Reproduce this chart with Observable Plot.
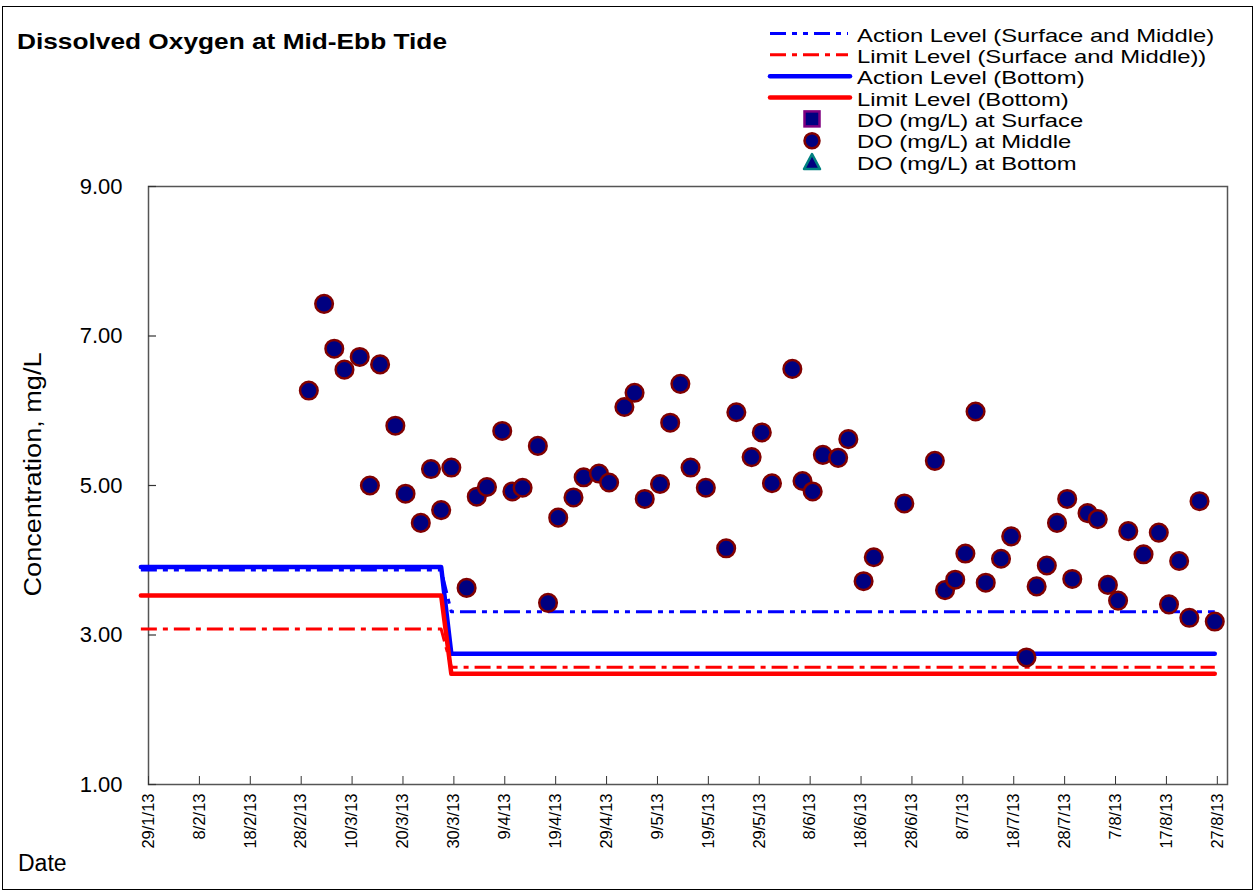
<!DOCTYPE html>
<html><head><meta charset="utf-8">
<script src="https://cdn.jsdelivr.net/npm/d3@7"></script>
<script src="https://cdn.jsdelivr.net/npm/@observablehq/plot@0.6"></script>
<style>
body{margin:0;background:#fff;font-family:"Liberation Sans",Arial,sans-serif;}
#wrap{position:relative;width:1255px;height:892px;overflow:hidden;background:#fff;}
#border{position:absolute;left:2px;top:6px;width:1251px;height:884px;border:1px solid #000;box-sizing:border-box;}
#plot, #overlay{position:absolute;left:0;top:0;}
#overlay{pointer-events:none;}
</style>
</head><body>
<div id="wrap"><div id="border"></div><div id="plot"></div><svg id="overlay" width="1255" height="892"></svg></div>
<script>
// ---- data ----
const sampleDates = ["2013-03-01","2013-03-04","2013-03-06","2013-03-08","2013-03-11","2013-03-13","2013-03-15","2013-03-18","2013-03-20","2013-03-23",
"2013-03-25","2013-03-27","2013-03-29","2013-04-01","2013-04-03","2013-04-05","2013-04-08","2013-04-10","2013-04-12","2013-04-15",
"2013-04-17","2013-04-19","2013-04-22","2013-04-24","2013-04-27","2013-04-29","2013-05-02","2013-05-04","2013-05-06","2013-05-09",
"2013-05-11","2013-05-13","2013-05-15","2013-05-18","2013-05-22","2013-05-24","2013-05-27","2013-05-29","2013-05-31","2013-06-04",
"2013-06-06","2013-06-08","2013-06-10","2013-06-13","2013-06-15","2013-06-18","2013-06-20","2013-06-26","2013-07-02","2013-07-04",
"2013-07-06","2013-07-08","2013-07-10","2013-07-12","2013-07-15","2013-07-17","2013-07-20","2013-07-22","2013-07-24","2013-07-26",
"2013-07-28","2013-07-29","2013-08-01","2013-08-03","2013-08-05","2013-08-07","2013-08-09","2013-08-12","2013-08-15","2013-08-17",
"2013-08-19","2013-08-21","2013-08-23","2013-08-26"];
const doMiddle = [6.27,7.43,6.83,6.55,6.72,5.00,6.62,5.80,4.89,4.50,
5.22,4.67,5.24,3.63,4.85,4.98,5.73,4.92,4.97,5.53,
3.43,4.57,4.84,5.11,5.16,5.04,6.05,6.24,4.82,5.02,
5.84,6.36,5.24,4.97,4.16,5.98,5.38,5.71,5.03,6.56,
5.06,4.92,5.41,5.37,5.62,3.72,4.04,4.76,5.33,3.60,
3.74,4.09,5.99,3.70,4.02,4.32,2.70,3.65,3.93,4.50,
4.82,3.75,4.63,4.55,3.67,3.46,4.39,4.08,4.37,3.41,
3.99,3.23,4.79,3.18];

const levelDates = ["2013-01-27","2013-03-27","2013-03-29","2013-08-26"];
const actionSM = [3.87,3.87,3.31,3.31];
const limitSM  = [3.08,3.08,2.57,2.57];
const actionB  = [3.91,3.91,2.75,2.75];
const limitB   = [3.53,3.53,2.48,2.48];

const tickDates = ["2013-01-29","2013-02-08","2013-02-18","2013-02-28","2013-03-10","2013-03-20","2013-03-30","2013-04-09","2013-04-19","2013-04-29",
"2013-05-09","2013-05-19","2013-05-29","2013-06-08","2013-06-18","2013-06-28","2013-07-08","2013-07-18","2013-07-28","2013-08-07","2013-08-17","2013-08-27"];
const tickLabels = ["29/1/13","8/2/13","18/2/13","28/2/13","10/3/13","20/3/13","30/3/13","9/4/13","19/4/13","29/4/13",
"9/5/13","19/5/13","29/5/13","8/6/13","18/6/13","28/6/13","8/7/13","18/7/13","28/7/13","7/8/13","17/8/13","27/8/13"];
const yTicks = [1,3,5,7,9];
const xDomain = ["2013-01-29","2013-08-29"];

const title = "Dissolved Oxygen at Mid-Ebb Tide";
const yLabel = "Concentration, mg/L";
const xLabel = "Date";
const legendLabels = ["Action Level (Surface and Middle)","Limit Level (Surface and Middle))","Action Level (Bottom)","Limit Level (Bottom)",
"DO (mg/L) at Surface","DO (mg/L) at Middle","DO (mg/L) at Bottom"];

// ---- build ----
const utc = (s, t="T12:00Z") => new Date(s + t);
const pts = sampleDates.map((d,i)=>({date: utc(d), value: doMiddle[i]}));
const levels = levelDates.map((d,i)=>({date: utc(d), aSM: actionSM[i], lSM: limitSM[i], aB: actionB[i], lB: limitB[i]}));
const ticks = tickDates.map(s=>utc(s,"T00:00Z"));
const W=1255, H=892, mL=148, mR=28, mT=186, mB=108;
const FONT = '"Liberation Sans", Arial, sans-serif';
const BLUE="#0000FF", RED="#FF0000";
const dashAction = "16,6,5,6,5,6", dashLimit = "16,6,5,6";

const chart = Plot.plot({
  width: W, height: H, marginLeft: mL, marginRight: mR, marginTop: mT, marginBottom: mB,
  style: {fontFamily: FONT, fontSize: "22px", color: "#000", background: "transparent", overflow: "visible"},
  x: {type: "utc", domain: xDomain.map(s=>utc(s,"T00:00Z"))},
  y: {domain: [1, 9]},
  marks: [
    Plot.frame({stroke: "#555", strokeWidth: 1.5}),
    Plot.ruleY(yTicks, {y: d=>d, insetRight: (W-mL-mR)-8, stroke: "#333", strokeWidth: 1.2}),
    Plot.ruleX(ticks, {x: d=>d, insetTop: (H-mT-mB)-8, stroke: "#333", strokeWidth: 1}),
    Plot.axisY(yTicks, {tickSize: 0, tickPadding: 26, tickFormat: d=>d.toFixed(2), label: null, fontSize: 22}),
    Plot.axisX(ticks, {tickSize: 0, tickPadding: 9, tickRotate: -90, label: null, fontSize: 16.5,
      tickFormat: d => tickLabels[ticks.findIndex(t => +t === +d)]}),
    Plot.line(levels, {x: "date", y: "aSM", stroke: BLUE, strokeWidth: 3, strokeDasharray: dashAction, strokeLinecap: "butt"}),
    Plot.line(levels, {x: "date", y: "lSM", stroke: RED, strokeWidth: 3, strokeDasharray: dashLimit, strokeLinecap: "butt"}),
    Plot.line(levels, {x: "date", y: "aB", stroke: BLUE, strokeWidth: 4.5}),
    Plot.line(levels, {x: "date", y: "lB", stroke: RED, strokeWidth: 4.5}),
    Plot.dot(pts, {x: "date", y: "value", r: 8.8, fill: "#000080", stroke: "#800000", strokeWidth: 2.5})
  ]
});
document.getElementById("plot").appendChild(chart);

// ---- overlay: title, axis titles, legend ----
const ov = d3.select("#overlay").style("font-family", FONT);
ov.append("text").attr("x", 17).attr("y", 49).attr("font-size", 22).attr("font-weight", "bold")
  .attr("textLength", 430).attr("lengthAdjust", "spacingAndGlyphs").text(title);
ov.append("text").attr("transform", "translate(41,474.5) rotate(-90)").attr("text-anchor", "middle")
  .attr("font-size", 23).attr("textLength", 244).attr("lengthAdjust", "spacingAndGlyphs").text(yLabel);
ov.append("text").attr("x", 18).attr("y", 871).attr("font-size", 23).text(xLabel);

const lg = ov.append("g");
const rowY = i => 42 + 21.35*i;
legendLabels.forEach((t,i)=>{
  const el = lg.append("text").attr("x", 857).attr("y", rowY(i) - 0.5).attr("font-size", 23.5).text(t);
  const len = el.node().getComputedTextLength() * 1.013;
  el.attr("font-size", 19).attr("textLength", len).attr("lengthAdjust", "spacingAndGlyphs");
});
const lineRows = [
  {c: BLUE, w: 3, dash: dashAction, x1: 770, x2: 848},
  {c: RED, w: 3, dash: dashLimit, x1: 770, x2: 848},
  {c: BLUE, w: 4.5, dash: null, x1: 770, x2: 850},
  {c: RED, w: 4.5, dash: null, x1: 770, x2: 850}
];
lineRows.forEach((r,i)=>{
  const y = rowY(i) - 8.5;
  lg.append("line").attr("x1", r.x1).attr("x2", r.x2).attr("y1", y).attr("y2", y)
    .attr("stroke", r.c).attr("stroke-width", r.w).attr("stroke-dasharray", r.dash)
    .attr("stroke-linecap", r.dash ? "butt" : "round");
});
const mx = 812;
lg.append("rect").attr("x", mx-7.5).attr("y", rowY(4)-8.5-7.5).attr("width", 15).attr("height", 15)
  .attr("fill", "#000080").attr("stroke", "#800080").attr("stroke-width", 2.5);
lg.append("circle").attr("cx", mx).attr("cy", rowY(5)-8).attr("r", 7.5)
  .attr("fill", "#000080").attr("stroke", "#800000").attr("stroke-width", 2.5);
const ty = rowY(6)-8;
lg.append("path").attr("d", `M${mx},${ty-8}L${mx+8},${ty+7}L${mx-8},${ty+7}Z`)
  .attr("fill", "#000080").attr("stroke", "#008080").attr("stroke-width", 2.5).attr("stroke-linejoin", "round");
</script>
</body></html>
